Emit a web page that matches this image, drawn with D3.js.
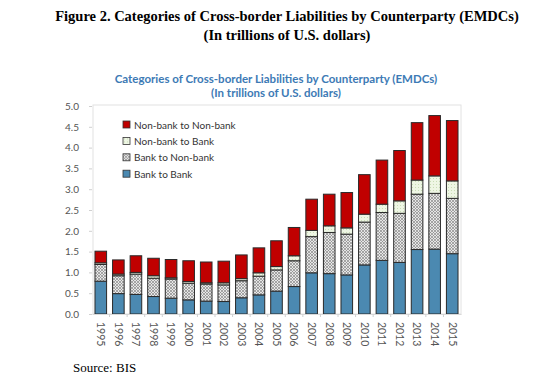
<!DOCTYPE html>
<html>
<head>
<meta charset="utf-8">
<script src="https://cdn.jsdelivr.net/npm/d3@7"></script>
<style>
  body { margin: 0; background: #fff; }
  svg { display: block; }
</style>
</head>
<body>
<script>
// valores (trilhões de US$)
var anos = ['1995', '1996', '1997', '1998', '1999', '2000', '2001', '2002', '2003', '2004',
  '2005', '2006', '2007', '2008', '2009', '2010', '2011', '2012', '2013', '2014', '2015']

const bancoBanco = [0.79, 0.49, 0.47, 0.42, 0.38, 0.34, 0.31, 0.30, 0.39, 0.46,
  0.55, 0.66, 0.99, 0.97, 0.94, 1.18, 1.29, 1.24, 1.55, 1.56, 1.45]
const bancoNaoBanco = [0.40, 0.43, 0.49, 0.44, 0.46, 0.40, 0.41, 0.40, 0.41, 0.45,
  0.51, 0.62, 0.87, 0.99, 0.98, 1.03, 1.15, 1.18, 1.33, 1.34, 1.33]
const naoBancoBanco = [0.04, 0.04, 0.04, 0.06, 0.03, 0.04, 0.03, 0.05, 0.05, 0.08,
  0.08, 0.12, 0.15, 0.16, 0.15, 0.19, 0.20, 0.30, 0.34, 0.42, 0.42]
const naoBancoNaoBanco = [0.28, 0.34, 0.40, 0.42, 0.44, 0.50, 0.50, 0.52, 0.57, 0.60,
  0.62, 0.68, 0.75, 0.76, 0.85, 0.95, 1.06, 1.21, 1.38, 1.45, 1.45]

var series = ['Bank to Bank', 'Bank to Non-bank', 'Non-bank to Bank', 'Non-bank to Non-bank']
var ticksY = [0, 0.5, 1, 1.5, 2, 2.5, 3, 3.5, 4, 4.5, 5]

// juntando em linhas para o d3.stack
var dados = anos.map(function (a, i) {
  return {
    ano: a,
    'Bank to Bank': bancoBanco[i],
    'Bank to Non-bank': bancoNaoBanco[i],
    'Non-bank to Bank': naoBancoBanco[i],
    'Non-bank to Non-bank': naoBancoNaoBanco[i]
  }
})

const largura = 552
const altura = 382
const area = {esq: 92, dir: 461, topo: 106, base: 314}

var svg = d3.select('body').append('svg')
  .attr('width', largura)
  .attr('height', altura)

// padrões de preenchimento
var defs = svg.append('defs')
var pHach = defs.append('pattern')
  .attr('id', 'hach').attr('patternUnits', 'userSpaceOnUse')
  .attr('width', 3).attr('height', 3)
pHach.append('rect').attr('width', 3).attr('height', 3).attr('fill', '#e6e6e6')
pHach.append('path').attr('d', 'M0,3 L3,0 M0,0 L3,3').attr('stroke', '#8a8a8a').attr('stroke-width', 0.7)

var pVerde = defs.append('pattern')
  .attr('id', 'verde').attr('patternUnits', 'userSpaceOnUse')
  .attr('width', 3).attr('height', 3)
pVerde.append('rect').attr('width', 3).attr('height', 3).attr('fill', '#eef6e4')
pVerde.append('rect').attr('x', 1).attr('y', 1).attr('width', 1).attr('height', 1).attr('fill', '#c9dcb6')

var cores = {
  'Bank to Bank': '#4b89b1',
  'Bank to Non-bank': 'url(#hach)',
  'Non-bank to Bank': 'url(#verde)',
  'Non-bank to Non-bank': '#c00000'
}

// títulos
svg.append('text').attr('x', 287).attr('y', 21)
  .attr('text-anchor', 'middle')
  .style('font-family', '"Liberation Serif", "Times New Roman", serif')
  .style('font-weight', 'bold').style('font-size', '14.5px')
  .text('Figure 2. Categories of Cross-border Liabilities by Counterparty (EMDCs)')
svg.append('text').attr('x', 287).attr('y', 40)
  .attr('text-anchor', 'middle')
  .style('font-family', '"Liberation Serif", "Times New Roman", serif')
  .style('font-weight', 'bold').style('font-size', '14.5px')
  .text('(In trillions of U.S. dollars)')

svg.append('text').attr('x', 276).attr('y', 83)
  .attr('text-anchor', 'middle')
  .style('font-family', 'Lato, sans-serif')
  .style('font-weight', 'bold').style('font-size', '11.5px')
  .attr('fill', '#3d7ab5')
  .text('Categories of Cross-border Liabilities by Counterparty (EMDCs)')
svg.append('text').attr('x', 276).attr('y', 97)
  .attr('text-anchor', 'middle')
  .style('font-family', 'Lato, sans-serif')
  .style('font-weight', 'bold').style('font-size', '11.5px')
  .attr('fill', '#3d7ab5')
  .text('(In trillions of U.S. dollars)')

svg.append('text').attr('x', 73).attr('y', 372)
  .style('font-family', '"Liberation Serif", "Times New Roman", serif')
  .style('font-size', '13px')
  .text('Source: BIS')

// escalas
var x = d3.scaleBand().domain(anos).range([area.esq, area.dir]).paddingInner(0.34).paddingOuter(0.17)
var y = d3.scaleLinear().domain([0, 5]).range([area.base, area.topo])

// moldura da área de plotagem
svg.append('rect')
  .attr('x', area.esq + 1).attr('y', area.topo - 1)
  .attr('width', area.dir - area.esq - 1).attr('height', area.base - area.topo + 1)
  .attr('fill', 'none').attr('stroke', '#e2e2e2')

// eixo y
var eixoY = svg.append('g')
  .attr('transform', 'translate(' + area.esq + ',0)')
  .call(d3.axisLeft(y).tickValues(ticksY).tickFormat(d3.format('.1f')).tickSize(3).tickPadding(10))
eixoY.select('.domain').remove()
eixoY.selectAll('line').attr('stroke', '#d0d0d0')
eixoY.selectAll('text')
  .style('font-family', 'Lato, sans-serif').style('font-size', '10px').attr('fill', '#555')

// barras empilhadas
var pilha = d3.stack().keys(series)(dados)

svg.append('g').selectAll('g')
  .data(pilha)
  .join('g')
    .attr('fill', function (d) { return cores[d.key] })
  .selectAll('rect')
  .data(function (d) { return d })
  .join('rect')
    .attr('x', function (d) { return x(d.data.ano) })
    .attr('y', function (d) { return y(d[1]) })
    .attr('width', x.bandwidth())
    .attr('height', function (d) { return y(d[0]) - y(d[1]) })
    .attr('stroke', '#2a2a2a')
    .attr('stroke-width', 1)

// eixo x
var eixoX = svg.append('g')
  .attr('transform', 'translate(0,' + area.base + ')')
  .call(d3.axisBottom(x).tickSize(0).tickPadding(0))
eixoX.select('.domain').attr('stroke', '#d9d9d9')
eixoX.selectAll('text')
  .attr('transform', 'rotate(90)')
  .attr('x', 8).attr('y', 0).attr('dy', '0.35em')
  .style('text-anchor', 'start')
  .style('font-family', 'Lato, sans-serif').style('font-size', '10.5px').attr('fill', '#555')

// marquinhas entre as barras
svg.append('g').selectAll('line')
  .data(anos.slice(1))
  .join('line')
    .attr('x1', function (d) { return x(d) - x.step() * x.paddingInner() / 2 })
    .attr('x2', function (d) { return x(d) - x.step() * x.paddingInner() / 2 })
    .attr('y1', area.base).attr('y2', area.base + 3)
    .attr('stroke', '#d0d0d0')

// legenda
var legenda = svg.append('g').attr('transform', 'translate(123,121)')
var itens = series.slice().reverse()
var linha = legenda.selectAll('g')
  .data(itens)
  .join('g')
    .attr('transform', function (d, i) { return 'translate(0,' + (i * 16.4) + ')' })
linha.append('rect')
  .attr('width', 7).attr('height', 7)
  .attr('fill', function (d) { return cores[d] })
  .attr('stroke', '#333').attr('stroke-width', 0.8)
linha.append('text')
  .attr('x', 11).attr('y', 4).attr('dy', '0.35em')
  .style('font-family', 'Lato, sans-serif').style('font-size', '10px').attr('fill', '#333')
  .text(function (d) { return d })
</script>
</body>
</html>
